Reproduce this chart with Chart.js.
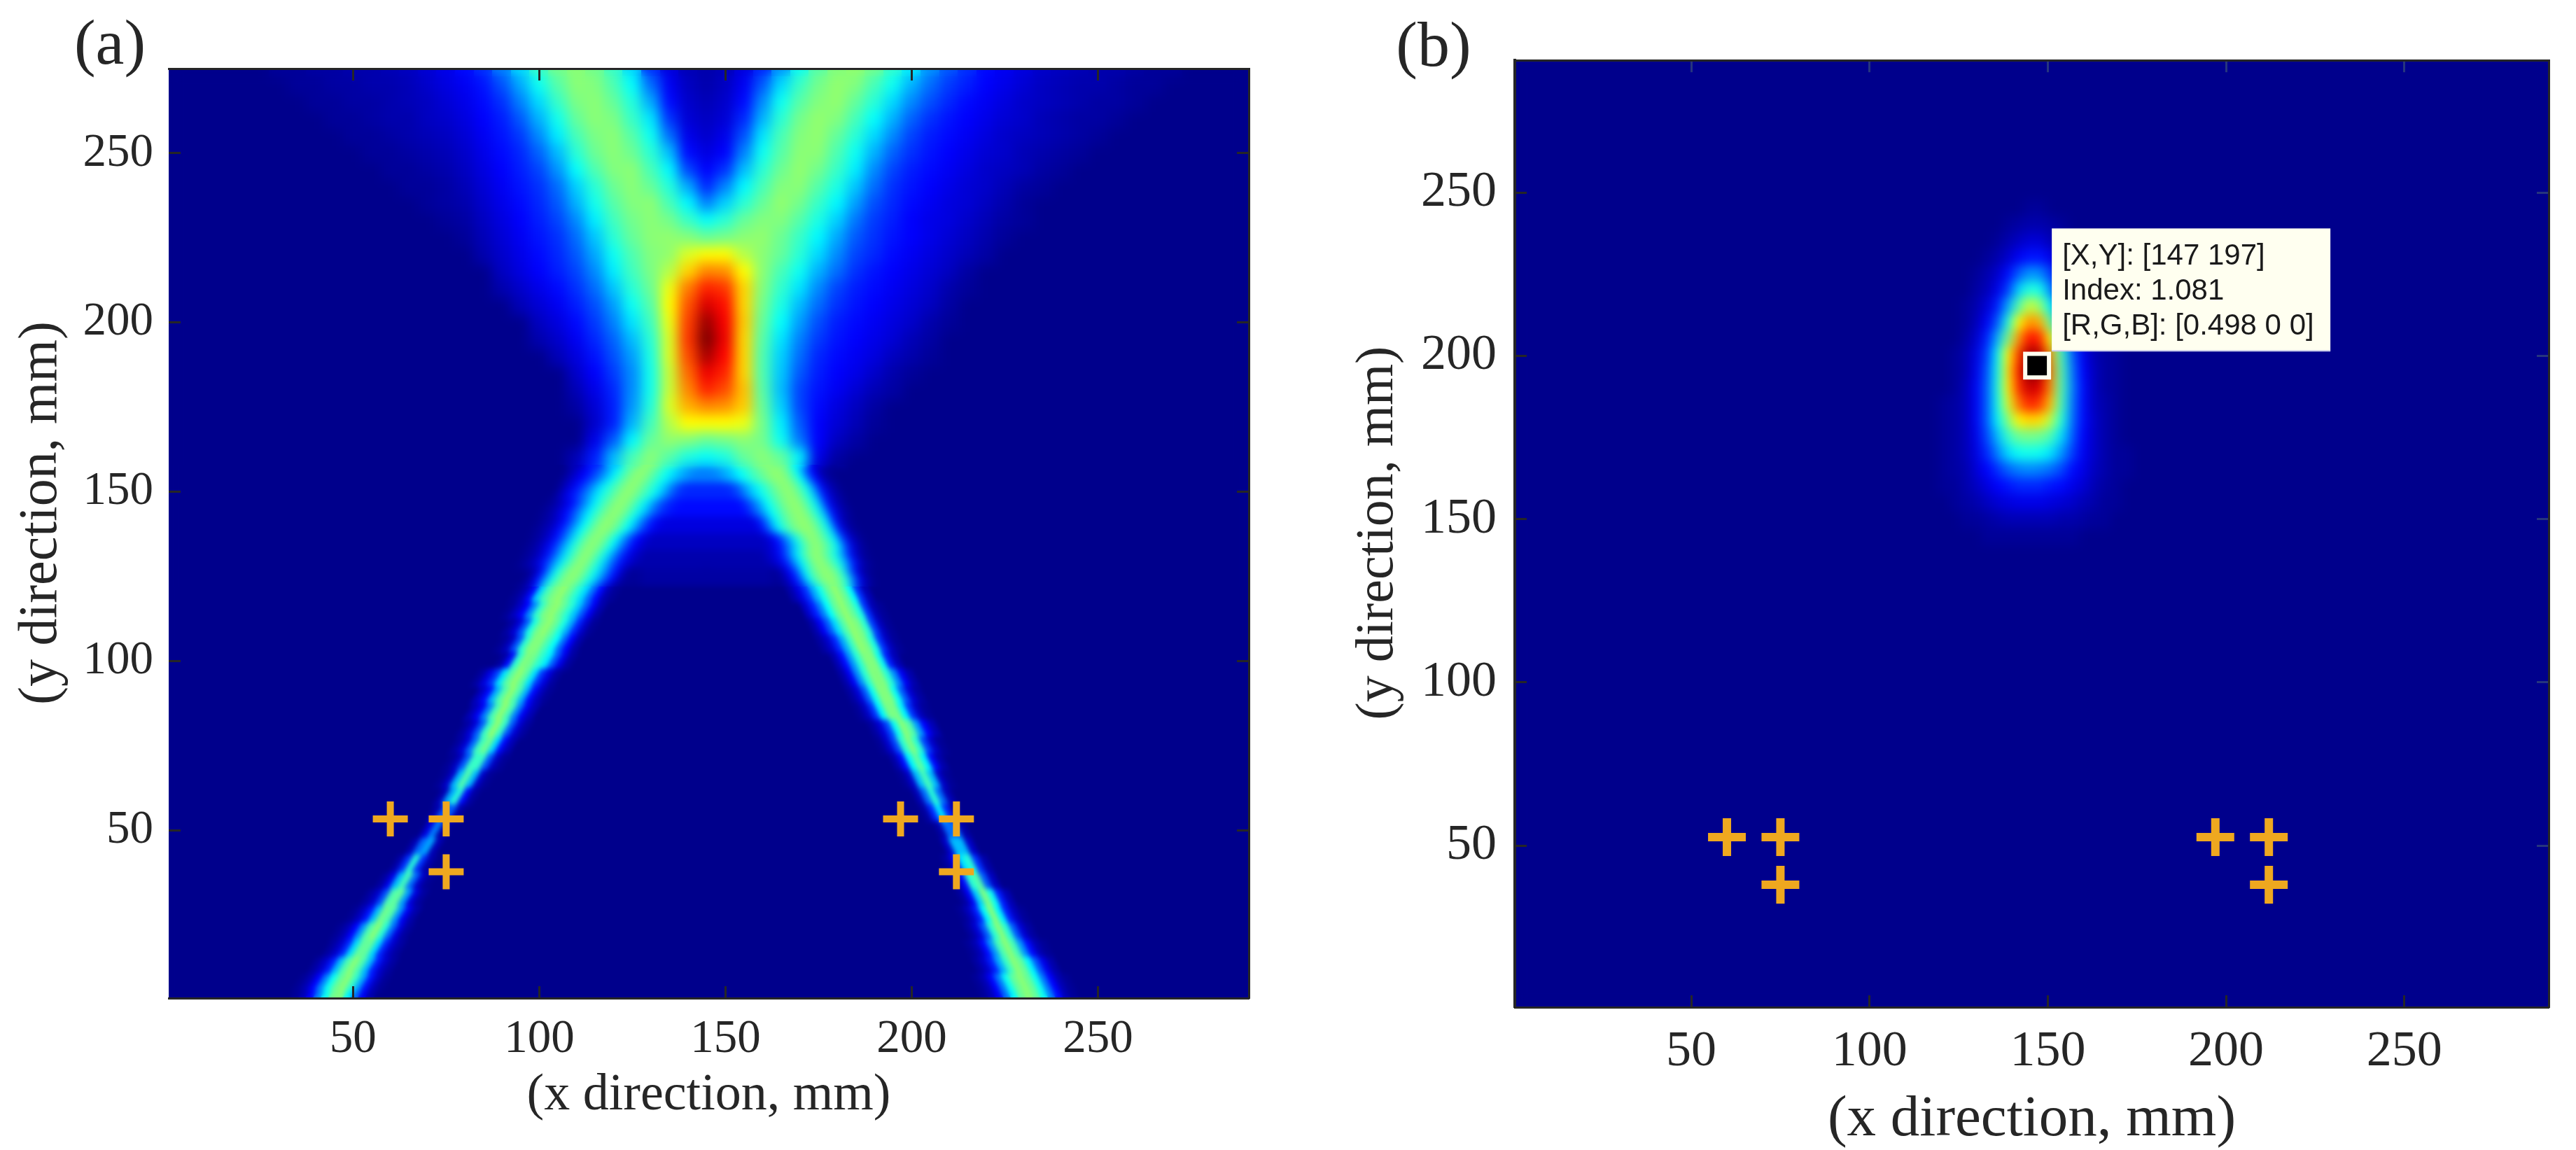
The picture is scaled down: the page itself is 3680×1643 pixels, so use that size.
<!DOCTYPE html>
<html><head><meta charset="utf-8">
<script src="https://cdn.jsdelivr.net/npm/chart.js@4"></script>
<style>html,body{margin:0;background:#fff;width:3680px;height:1643px;overflow:hidden}canvas{position:absolute;top:0}</style>
</head><body>
<canvas id="a" width="1840" height="1643" style="left:0"></canvas>
<canvas id="b" width="1840" height="1643" style="left:1840px"></canvas>
<script>
// ---------- tick labels and markers ----------
const xTicksA=[50,100,150,200,250], yTicksA=[50,100,150,200,250];
const xTicksB=[50,100,150,200,250], yTicksB=[50,100,150,200,250];
const markersA=[{x:60,y:53.4},{x:75,y:53.4},{x:75,y:37.8},{x:197,y:53.4},{x:212,y:53.4},{x:212,y:37.8}];
const markersB=[{x:60,y:52.6},{x:75,y:52.6},{x:75,y:38},{x:197,y:52.6},{x:212,y:52.6},{x:212,y:38}];
const selectedB=[{x:147,y:197}];
const tipLines=['[X,Y]: [147 197]','Index: 1.081','[R,G,B]: [0.498 0 0]'];

// ---------- field: [y, first x, colour level 0-100 ...], 5 mm steps ----------
const fieldAUpper=[
[275,30,[1,1,2,2,3,3,4,5,7,9,12,16,24,33,44,52,55,52,44,33,16,8,4,3,4,8,15,26,38,48,54,56,52,43,35,26,20,16,12,10,8,6,5,4,3,3,2,1,1]],
[270,35,[1,1,2,2,3,3,4,6,8,10,13,19,28,38,48,55,54,47,37,22,10,5,3,5,10,20,33,44,52,56,54,46,38,29,22,17,14,11,9,7,5,4,3,3,2,1,1]],
[265,40,[1,1,2,2,3,4,5,7,9,12,16,24,33,44,53,55,50,41,28,12,6,4,6,12,25,38,48,54,56,50,42,33,25,19,15,12,10,8,6,5,4,3,2,2,1]],
[260,45,[1,1,2,3,3,5,6,8,11,14,20,29,39,50,55,53,44,34,16,7,5,7,15,29,42,52,56,54,46,37,29,21,16,13,11,9,7,6,4,3,2,2,1]],
[255,50,[1,1,2,3,4,5,7,10,13,17,25,35,46,53,55,48,38,22,9,6,9,19,34,46,54,56,50,42,33,25,18,14,12,10,8,6,5,4,3,2,1]],
[250,55,[1,1,2,3,4,6,9,12,15,21,30,42,51,55,51,42,30,12,8,11,24,38,48,55,55,47,38,29,21,16,13,11,9,7,6,4,3,2,1]],
[245,60,[1,1,2,3,5,8,11,14,18,26,37,47,54,55,46,36,18,11,16,30,42,51,56,52,44,35,25,18,14,12,10,8,6,5,4,2,1]],
[240,65,[1,1,2,4,7,10,13,16,22,32,42,51,55,50,41,28,15,24,36,46,54,55,48,40,31,22,16,13,11,9,7,6,4,2,1]],
[235,70,[1,2,3,6,9,12,15,20,29,39,48,54,55,46,36,24,32,42,50,56,52,44,36,27,19,15,12,10,8,7,5,3,1]],
[230,75,[1,2,5,8,11,14,18,25,35,45,52,55,52,44,37,42,50,54,54,48,40,32,23,17,14,11,9,8,6,4,2,1]],
[225,80,[1,4,7,10,13,16,22,31,42,50,55,56,54,50,52,55,56,51,44,36,28,20,16,13,11,9,7,5,3,1]],
[220,85,[3,6,9,12,15,20,28,38,47,54,56,60,62,62,58,55,50,42,33,25,18,15,12,10,8,6,4,2]],
[215,90,[5,8,11,14,18,25,35,45,53,58,66,74,73,62,55,46,38,29,22,16,13,11,9,7,5,2]],
[210,90,[3,6,9,12,16,22,31,42,51,61,75,84,82,66,54,43,34,25,18,14,12,10,8,6,3,1]],
[205,95,[4,7,10,14,19,27,38,48,62,79,91,86,66,52,40,30,22,16,13,11,9,7,5,2]],
[200,100,[5,8,12,17,24,34,45,61,81,97,88,67,50,37,27,19,14,12,10,8,6,3,1]],
[195,100,[3,6,10,15,21,30,42,60,82,100,89,66,48,34,24,17,13,11,9,7,4,2]],
[190,105,[4,8,13,19,27,40,60,80,96,87,66,47,32,22,15,12,10,8,5,3,1]],
[185,110,[6,11,17,25,39,59,77,89,84,66,47,31,20,14,11,9,6,3,1]],
[180,110,[4,9,15,25,39,59,74,84,80,68,48,30,18,13,10,7,4,2]],
[175,110,[2,7,14,26,41,60,70,74,73,67,50,32,18,12,8,5,2]],
[170,115,[6,14,29,45,58,62,62,62,61,52,35,20,11,7,4,1]],
[165,115,[9,20,36,50,56,54,50,52,55,52,38,23,11,5,2]],
[160,110,[4,14,30,46,55,48,40,37,40,50,55,50,36,9,2]],
[155,130,[50,36,28,24,28,40,50]],
[150,130,[41,22,15,15,15,25,39]],
[145,130,[26,14,12,12,12,14,28]],
[140,130,[13,8,8,8,8,8,11]],
[135,130,[5,5,5,5,5,5,5]],
[130,130,[3,3,3,3,3,3,3]],
[125,125,[1,2,2,2,2,2,2,2,1]]
];
// ---------- narrow ridges of panel (a): [y, first x, levels ...], 2 mm steps ----------
const fieldALower=[
[155,108,[3,7,11,16,21,28,35,43,50,55,55,50,44,38,33,29,26,24,24,24,25,28,31,36,41,46,50,54,56,54,46,36,22,11,4,1]],
[150,106,[4,9,14,20,27,34,41,47,53,56,53,47,41,34,27,20,16,15,15,15,15,15,15,16,20,27,33,39,45,51,55,55,49,40,28,14,6,2]],
[145,102,[1,3,7,12,19,27,35,43,50,55,55,50,42,34,26,19,15,13,12,12,12,12,12,12,12,12,12,15,21,28,37,44,51,55,56,50,41,30,14,6,2]],
[140,100,[1,3,6,12,19,28,37,46,53,56,53,46,37,28,19,13,9,8,8,8,8,8,8,8,8,8,8,8,8,8,14,24,35,44,51,55,56,52,43,32,14,5,1]],
[135,98,[1,3,7,13,21,31,41,50,55,54,47,37,27,18,11,7,5,5,5,5,5,5,5,5,5,5,5,5,5,5,5,5,7,12,20,30,41,51,56,52,44,34,18,7,2]],
[130,96,[1,3,7,14,23,33,43,52,56,51,42,32,22,14,8,5,3,3,3,3,3,3,3,3,3,3,3,3,3,3,3,3,3,5,8,14,24,35,46,55,55,48,40,28,14,5,1]],
[125,98,[3,12,26,39,49,55,55,48,39,30,20,12,4,1]],[125,164,[1,4,11,20,35,47,54,56,52,42,24,9,2]],
[120,94,[1,4,12,32,46,53,56,50,42,33,22,12,4,1]],[120,168,[3,8,16,28,39,50,56,50,37,16,4]],
[115,92,[1,5,11,25,43,53,56,50,42,31,20,10,3]],[115,172,[6,14,24,37,50,56,50,40,16,4,1]],
[110,92,[2,7,20,40,52,56,50,40,28,15,6,1]],[110,174,[3,10,20,33,47,56,53,42,17,5,1]],
[105,90,[1,5,19,42,54,54,46,37,22,11,3]],[105,176,[2,6,15,28,44,56,53,40,16,5,1]],
[100,90,[2,12,42,54,52,43,35,20,9,2]],[100,180,[4,12,26,42,54,54,38,14,4]],
[95,84,[2,8,17,34,49,56,49,34,17,8,2]],[95,182,[3,10,25,42,54,54,42,25,10,3]],
[90,84,[5,12,29,47,56,47,29,12,5,1]],[90,184,[2,7,20,38,54,54,38,20,7,2]],
[85,82,[4,10,24,46,56,46,24,10,4]],[85,186,[1,5,16,36,53,53,36,16,5,1]],
[80,80,[2,7,20,44,56,44,20,7,2]],[80,190,[2,7,18,38,55,48,27,11,4]],
[75,78,[2,7,22,45,52,33,12,4]],[75,192,[1,6,18,42,54,42,18,6,1]],
[70,76,[1,5,20,44,44,20,5,1]],[70,196,[3,12,36,50,36,12,3]],
[65,74,[1,6,30,48,30,6,1]],[65,198,[1,6,30,46,30,6,1]],
[60,74,[4,28,42,12,2]],[60,202,[4,22,42,22,4]],
[55,72,[3,20,20,3]],[55,204,[2,15,35,15,2]],
[50,70,[8,24,3]],[50,208,[3,22,22,3]],
[45,66,[4,22,28,4]],[45,210,[6,30,30,6]],
[40,62,[3,16,42,16,3]],[40,210,[2,10,34,42,16,3]],
[35,58,[2,9,30,46,22,6,1]],[35,212,[2,12,42,48,20,5]],
[30,54,[2,6,19,47,50,27,8,2]],[30,214,[2,10,32,54,38,14,4]],
[25,50,[1,5,13,30,52,48,26,10,3]],[25,214,[1,5,14,36,55,36,14,5,1]],
[20,46,[1,4,11,26,47,55,42,22,8,2]],[20,216,[2,7,20,42,55,42,20,7,2]],
[15,44,[2,6,15,33,50,50,33,15,6,2]],[15,216,[1,4,12,26,46,55,46,26,12,4,1]],
[10,40,[2,6,14,30,47,55,47,30,14,6,2]],[10,218,[2,6,14,28,44,55,50,36,20,9,3]],
[5,36,[1,4,11,24,38,50,55,44,28,13,5,1]],[5,218,[1,4,11,23,38,50,55,50,38,23,11,4,1]],
[0,34,[1,4,11,24,38,52,54,36,22,10,3]],[0,220,[1,4,10,22,36,50,55,50,38,24,12,4,1]]
];
// ---------- field: [y, first x, levels ...], 3 mm steps ----------
const fieldB=[
[245,121,[0,0,0,0,0,0,0,0,1,1,0,0,0,0,0,0,0,0]],
[240,121,[0,0,0,0,0,0,1,2,3,3,2,1,0,0,0,0,0,0]],
[235,121,[0,0,0,0,0,1,3,5,7,7,4,2,0,0,0,0,0,0]],
[230,121,[0,0,0,0,1,3,6,10,13,13,9,5,2,0,0,0,0,0]],
[225,121,[0,0,0,1,3,6,12,20,26,25,17,9,4,1,0,0,0,0]],
[220,121,[0,0,0,2,4,9,17,32,41,39,24,13,6,2,0,0,0,0]],
[215,121,[0,0,1,3,7,14,28,47,59,56,36,18,9,4,1,0,0,0]],
[210,121,[0,0,1,4,10,20,40,62,73,70,50,27,12,5,2,1,0,0]],
[205,121,[0,0,2,6,14,29,53,72,86,83,63,37,16,7,3,1,0,0]],
[200,121,[0,1,3,8,17,36,62,82,97,94,72,45,21,10,4,2,1,0]],
[195,121,[0,1,3,9,19,38,64,85,100,97,75,47,23,11,5,2,1,0]],
[190,121,[0,1,4,10,20,39,63,83,93,90,73,47,24,12,5,2,1,0]],
[185,121,[1,2,4,10,20,38,60,76,84,81,68,45,23,12,5,3,1,0]],
[180,121,[1,2,4,10,20,36,54,63,66,65,58,41,22,12,6,3,1,0]],
[175,121,[1,2,4,9,18,30,43,51,52,51,46,33,20,11,6,3,1,0]],
[170,121,[1,2,4,8,15,24,33,38,39,38,34,26,17,10,6,3,1,1]],
[165,121,[1,2,3,7,11,16,21,24,25,24,22,18,12,9,5,3,1,1]],
[160,121,[1,1,3,5,8,11,13,15,15,15,13,12,9,7,4,2,1,0]],
[155,121,[0,1,2,3,5,7,8,9,9,9,8,7,6,4,3,1,1,0]],
[150,121,[0,0,1,1,2,3,4,4,4,4,4,3,3,2,1,1,0,0]],
[145,121,[0,0,0,0,1,1,1,1,1,1,1,1,1,0,0,0,0,0]]
];

// ---------- drawing ----------
const INK='#262626', NAVY='#00008C', ORANGE='#EFA81F', SERIF='"Liberation Serif","Times New Roman",serif';
function tone(v){return v<=37?v:v<=56?37+(v-37)*14/19:v<=62?51+(v-56)*11/6:v;}
function jet(v){const t=(tone(v)+1.5)/101.5,c=a=>Math.round(255*Math.max(0,Math.min(1,1.5-Math.abs(4*t-a))));return `rgb(${c(3)},${c(2)},${c(1)})`;}
const sprites=new Map();
function sprite(p){
  const key=[p.v,p.w,p.h,p.lean].join('|');
  if(!sprites.has(key)){
    const L=p.lean*p.h/2,s=document.createElement('canvas');s.width=Math.ceil(p.w+Math.abs(L)*2);s.height=p.h;
    const g=s.getContext('2d'),m=s.width/2;g.fillStyle=jet(p.v);g.beginPath();
    g.moveTo(m-p.w/2+L,0);g.lineTo(m+p.w/2+L,0);g.lineTo(m+p.w/2-L,p.h);g.lineTo(m-p.w/2-L,p.h);g.closePath();g.fill();
    sprites.set(key,s);}
  return sprites.get(key);
}
function cells(rows,stepX,pxX,pxY,leanOf){
  const w=Math.ceil(stepX*pxX)+1,h=Math.ceil(5*pxY)+2,out=[];
  rows.forEach(([y,x0,vals])=>vals.forEach((v,i)=>{const x=x0+i*stepX;if(v>0)out.push({x,y,v,w,h,lean:leanOf(x,y)});}));
  return out;
}
const upright=()=>0;
const followRidges=(x,y)=>x<146?0.6:-0.48;
function heatDataset(data){return {label:'field',data,clip:0,pointRadius:30,pointHitRadius:0,pointBorderWidth:0,pointBackgroundColor:'rgba(0,0,0,0)',
  pointStyle:c=>c.raw?sprite(c.raw):'rect'};}
function smooth(bands){return {id:'smooth',
  beforeDatasetsDraw(chart){const a=chart.chartArea,c=chart.ctx;c.save();c.fillStyle=NAVY;c.fillRect(a.left,a.top,a.width,a.height);c.restore();},
  afterDatasetDraw(chart,args){
    if(chart.data.datasets[args.index].label!=='field')return;
    const a=chart.chartArea,c=chart.ctx,o=document.createElement('canvas');o.width=a.width;o.height=a.height;
    o.getContext('2d').drawImage(chart.canvas,a.left,a.top,a.width,a.height,0,0,a.width,a.height);
    bands.forEach(b=>{const yT=chart.scales.y.getPixelForValue(b.to),yB=chart.scales.y.getPixelForValue(b.from);
      c.save();c.beginPath();c.rect(a.left,Math.max(a.top,yT),a.width,Math.min(a.bottom,yB)-Math.max(a.top,yT));c.clip();
      c.filter=`blur(${b.sigma}px)`;c.drawImage(o,a.left,a.top);c.restore();});
  }};}
function titleShift(dx,dy){return {id:'titleShift',beforeDraw(chart){const s=chart.scales.y;if(s._shifted)return;s._shifted=true;const f=s.drawTitle;
  s.drawTitle=function(){const c=this.ctx;c.save();c.translate(dx,dy);f.call(this);c.restore();};}};}
function panelLetter(t,x,y,size){return {id:'letter',afterDraw(chart){const c=chart.ctx;c.save();c.font=`${size}px ${SERIF}`;c.fillStyle=INK;c.textAlign='center';c.textBaseline='middle';c.fillText(t,x,y);c.restore();}};}
function scaleOpts(cfg){
  return {type:'linear',min:cfg.min,max:cfg.max,
    afterBuildTicks(s){s.ticks=cfg.ticks.map(v=>({value:v}));},
    grid:{display:true,drawOnChartArea:false,drawTicks:true,tickLength:-17,tickWidth:3,tickColor:cfg.tc||INK,z:2},
    border:{display:cfg.border!==false,color:INK,width:cfg.bw||3,z:2}};
}
function makeOptions(o){
  const xM=scaleOpts({min:o.xr[0],max:o.xr[1],ticks:o.xt}),yM=scaleOpts({min:o.yr[0],max:o.yr[1],ticks:o.yt,border:o.leftBorder,bw:4});
  return {responsive:false,animation:false,events:[],
    layout:{padding:o.pad},
    plugins:{legend:{display:false},tooltip:{enabled:false}},
    scales:{
      x:{...xM,position:'bottom',afterFit(s){s.height=o.xh;},
        ticks:{display:true,autoSkip:false,maxRotation:0,padding:o.xpad,color:INK,font:{family:SERIF,size:o.tf},callback:v=>String(v)},
        title:{display:true,text:'(x direction, mm)',color:INK,font:{family:SERIF,size:o.xtf,lineHeight:1.2},padding:{top:0,bottom:o.xtp}}},
      y:{...yM,position:'left',afterFit(s){s.width=o.yw;},
        ticks:{display:true,autoSkip:false,padding:o.ypad,color:INK,font:{family:SERIF,size:o.tf},callback:v=>String(v)},
        title:{display:true,text:'(y direction, mm)',color:INK,font:{family:SERIF,size:o.ytf,lineHeight:1.2},padding:{top:o.ytp,bottom:0}}},
      x2:{...scaleOpts({min:o.xr[0],max:o.xr[1],ticks:o.xt,tc:o.farTick}),axis:'x',position:'top',afterFit(s){s.height=0;},ticks:{display:false},title:{display:false}},
      y2:{...scaleOpts({min:o.yr[0],max:o.yr[1],ticks:o.yt,bw:3,tc:o.farTick}),axis:'y',position:'right',afterFit(s){s.width=0;},ticks:{display:false},title:{display:false}}
    }};
}
const pxAx=(1784-241)/290,pxAy=(1426-98)/275,pxBx=(1809-324)/290,pxBy=(1439-79)/290;

new Chart(document.getElementById('a'),{type:'scatter',
  data:{datasets:[
    {label:'markers',data:markersA,pointStyle:'cross',pointRadius:25,pointBorderWidth:10,pointBorderColor:ORANGE,clip:0},
    heatDataset(cells(fieldAUpper,5,pxAx,pxAy,upright).concat(cells(fieldALower,2,pxAx,pxAy,followRidges)))]},
  options:makeOptions({xr:[0.5,290.5],yr:[0.5,275],xt:xTicksA,yt:yTicksA,pad:{left:0,top:98,right:56,bottom:0},xh:217,yw:241,
    tf:67,xpad:36,ypad:39,xtf:74,ytf:78,xtp:33,ytp:13,leftBorder:false}),
  plugins:[smooth([{from:158,to:280,sigma:9},{from:122,to:158,sigma:6},{from:-5,to:122,sigma:3.5}]),titleShift(0,-29),panelLetter('(a)',157,67,92)]
});

const tipPlugin={id:'tip',afterDatasetsDraw(chart){
  const c=chart.ctx,px=chart.scales.x.getPixelForValue(selectedB[0].x),py=chart.scales.y.getPixelForValue(selectedB[0].y);
  c.save();c.fillStyle='#FFFFF0';c.fillRect(px+21,py-196,398,175);
  c.strokeStyle='#C8CCE8';c.lineWidth=2;c.beginPath();c.moveTo(px+21,py-21);c.lineTo(px+419,py-21);c.stroke();
  c.fillStyle='#1a1a1a';c.font='42px "Liberation Sans",Arial,sans-serif';c.textBaseline='middle';c.textAlign='left';
  tipLines.forEach((t,i)=>c.fillText(t,px+36,py-156+i*50));c.restore();}};
new Chart(document.getElementById('b'),{type:'scatter',
  data:{datasets:[
    {label:'selected',data:selectedB,pointStyle:'rect',pointRadius:24,pointBackgroundColor:'#000',pointBorderColor:'#FFFFF0',pointBorderWidth:6,clip:0},
    {label:'markers',data:markersB,pointStyle:'cross',pointRadius:27,pointBorderWidth:12,pointBorderColor:ORANGE,clip:0},
    heatDataset(cells(fieldB,3,pxBx,pxBy,upright))]},
  options:makeOptions({xr:[0.5,290.5],yr:[0.5,290.5],xt:xTicksB,yt:yTicksB,pad:{left:0,top:79,right:31,bottom:0},xh:204,yw:324,
    tf:72,xpad:38,ypad:43,xtf:83,ytf:76,xtp:-7,ytp:83,leftBorder:true,farTick:'#26357E'}),
  plugins:[smooth([{from:-5,to:295,sigma:8}]),titleShift(0,-1),panelLetter('(b)',208,70,92),tipPlugin]
});
</script>
</body></html>
